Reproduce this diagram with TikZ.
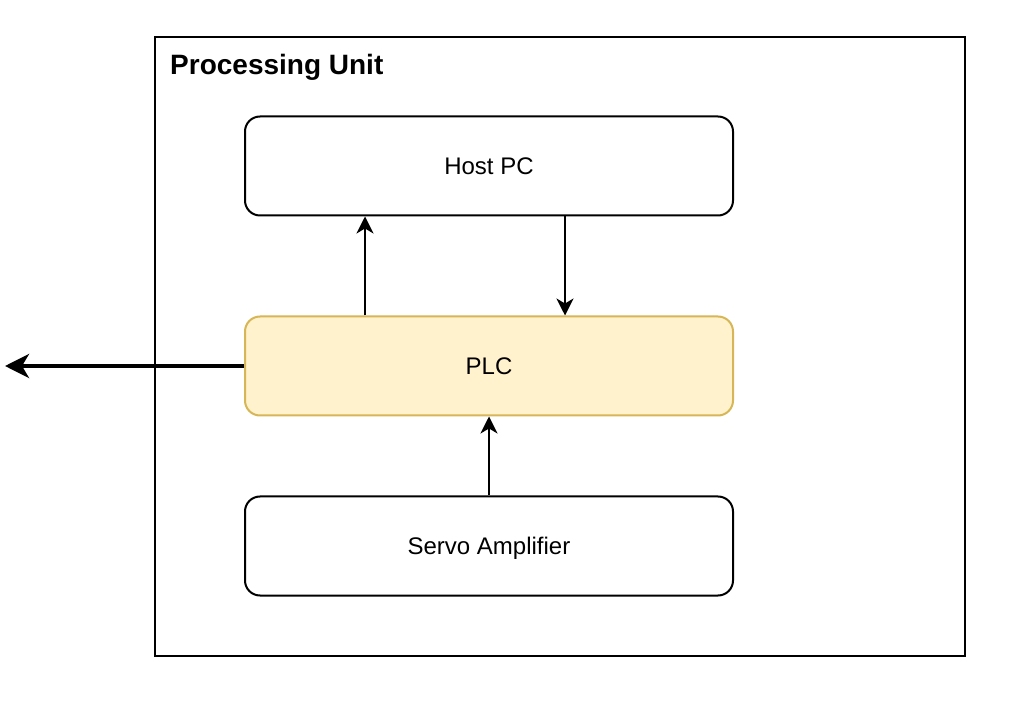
\documentclass[tikz,border=0pt]{standalone}
\usepackage{fontspec}
\setmainfont{Liberation Sans}
\usetikzlibrary{arrows.meta}
\definecolor{plcfill}{HTML}{FFF2CC}
\definecolor{plcdraw}{HTML}{D6B656}
\tikzset{
  blockbox/.style={draw=black, line width=2pt, rounded corners=15pt, fill=white,
    minimum width=488pt, minimum height=99pt, inner sep=0pt, text height=17.5pt, text depth=0pt,
    font=\fontsize{24}{28}\selectfont},
  plcbox/.style={blockbox, draw=plcdraw, fill=plcfill},
  arr/.style={line width=2pt, -{Stealth[length=17pt, width=17pt, inset=5pt]}},
  thickarr/.style={line width=4pt, -{Stealth[length=24pt, width=24pt, inset=7pt]}},
}
\begin{document}
\begin{tikzpicture}[x=1pt, y=-1pt]
\useasboundingbox (0,0) rectangle (1010,708);
\draw[line width=2pt] (155,37) rectangle (965,656);
\node[anchor=base west, inner sep=0pt, font=\bfseries\fontsize{28}{32}\selectfont] (title) at (170,75) {Processing Unit};
\node[blockbox] (host) at (489,166) {Host PC};
\node[plcbox] (plc) at (489,366) {PLC};
\node[blockbox] (servo) at (489,546) {Servo Amplifier};
\coordinate (out) at (5,366);
\draw[arr] ([xshift=-124pt]plc.north) -- ([xshift=-124pt]host.south);
\draw[arr] ([xshift=76pt]host.south) -- ([xshift=76pt]plc.north);
\draw[arr] (servo.north) -- (plc.south);
\draw[thickarr] (plc.west) -- (out);
\end{tikzpicture}
\end{document}
